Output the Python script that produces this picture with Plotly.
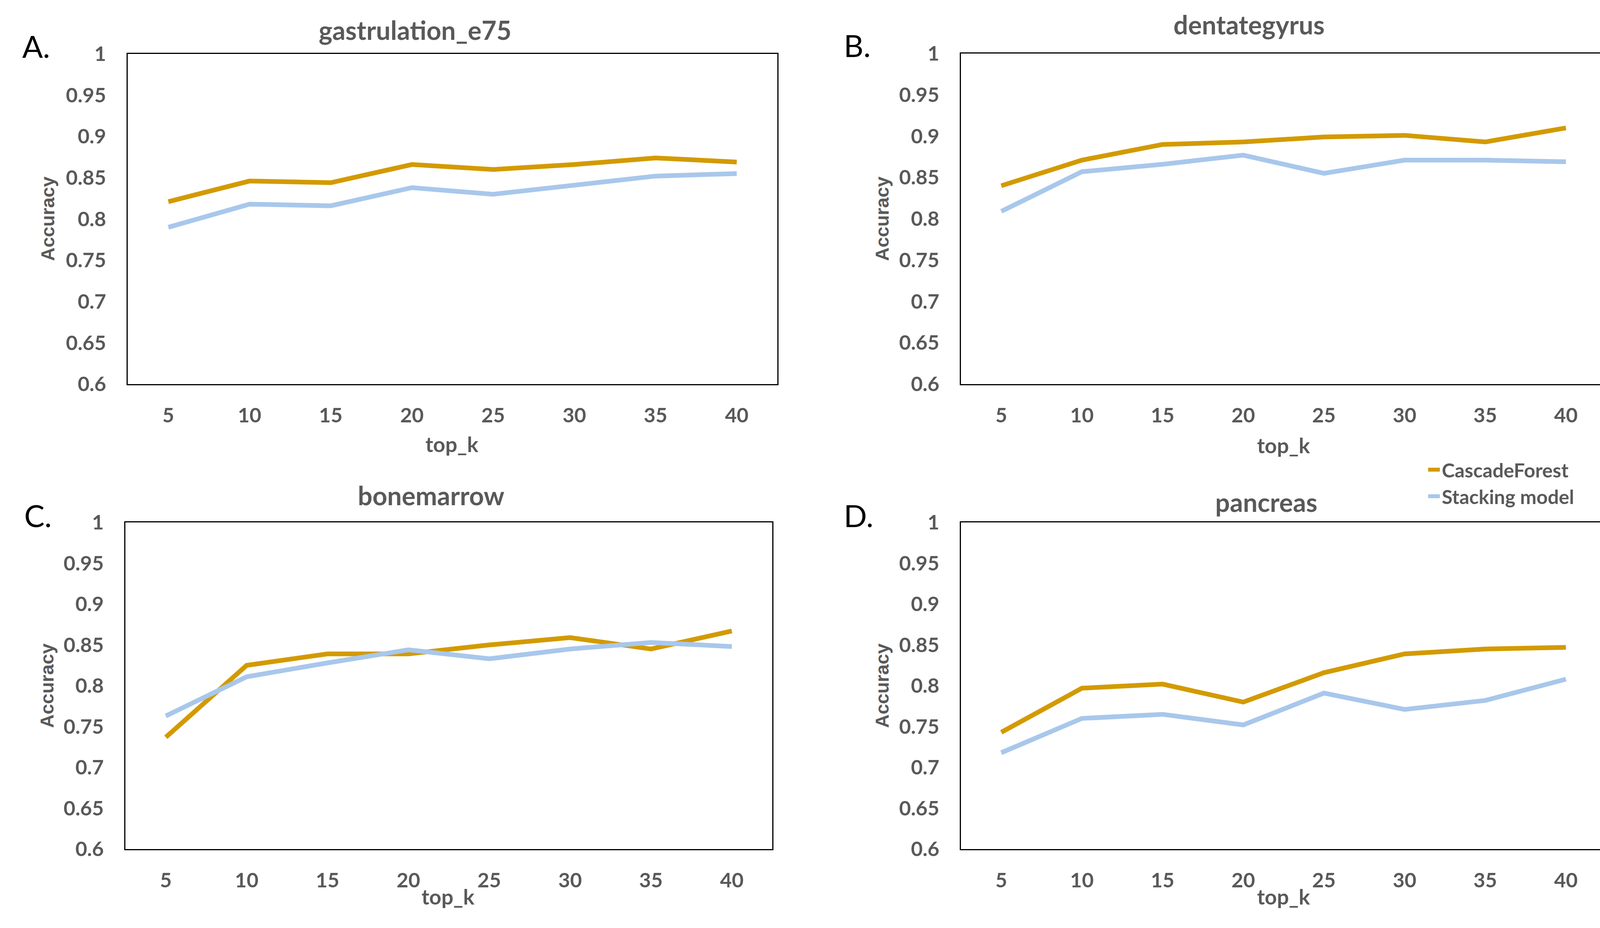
import plotly.graph_objects as go

# ---------------- data ----------------
top_k = [5, 10, 15, 20, 25, 30, 35, 40]
y_tick_vals = [0.6, 0.65, 0.7, 0.75, 0.8, 0.85, 0.9, 0.95, 1.0]
y_tick_text = ["0.6", "0.65", "0.7", "0.75", "0.8", "0.85", "0.9", "0.95", "1"]
series_names = ["CascadeForest", "Stacking model"]
panel_titles = ["gastrulation_e75", "dentategyrus", "bonemarrow", "pancreas"]
panel_letters = ["A.", "B.", "C.", "D."]

gastrulation_cascade = [0.821, 0.846, 0.844, 0.866, 0.860, 0.866, 0.874, 0.869]
gastrulation_stacking = [0.790, 0.818, 0.816, 0.838, 0.830, 0.841, 0.852, 0.855]

dentategyrus_cascade = [0.840, 0.871, 0.890, 0.893, 0.899, 0.901, 0.893, 0.910]
dentategyrus_stacking = [0.809, 0.857, 0.866, 0.877, 0.855, 0.871, 0.871, 0.869]

bonemarrow_cascade = [0.737, 0.825, 0.839, 0.839, 0.850, 0.859, 0.845, 0.867]
bonemarrow_stacking = [0.763, 0.811, 0.828, 0.844, 0.833, 0.845, 0.853, 0.848]

pancreas_cascade = [0.743, 0.797, 0.802, 0.780, 0.816, 0.839, 0.845, 0.847]
pancreas_stacking = [0.718, 0.760, 0.765, 0.752, 0.791, 0.771, 0.782, 0.808]

panel_data = [
    (gastrulation_cascade, gastrulation_stacking),
    (dentategyrus_cascade, dentategyrus_stacking),
    (bonemarrow_cascade, bonemarrow_stacking),
    (pancreas_cascade, pancreas_stacking),
]

# ---------------- styling / layout ----------------
W, H = 4143, 2375
ORANGE = "#D39A00"
BLUE = "#A8C7EB"
GRAY = "#595959"
colors = [ORANGE, BLUE]

def px_x(v):
    return v / W

def px_y(v):
    return 1 - v / H

# plot boxes in pixels: (left, right, top, bottom)
boxes = [
    (327, 1990, 138, 983),
    (2460, 4112, 137, 983),
    (321, 1977, 1337, 2173),
    (2460, 4112, 1337, 2173),
]
title_pos = [(1062, 76), (3197, 62), (1103, 1267), (3241, 1284)]
letter_pos = [(55, 118), (2158, 116), (60, 1319), (2158, 1319)]
topk_pos = [(1157, 1136), (3286, 1139), (1147, 2294), (3286, 2294)]
acc_pos = [(122, 560), (2258, 560), (120, 1755), (2258, 1755)]

fig = go.Figure()

for i, (casc, stack) in enumerate(panel_data):
    xa = "x" if i == 0 else f"x{i+1}"
    ya = "y" if i == 0 else f"y{i+1}"
    for j, vals in enumerate((casc, stack)):
        fig.add_trace(go.Scatter(
            x=top_k, y=vals, mode="lines", name=series_names[j],
            line=dict(color=colors[j], width=12),
            xaxis=xa, yaxis=ya,
            showlegend=(i == 0), legendgroup=series_names[j],
        ))

layout = dict(
    width=W, height=H,
    margin=dict(l=0, r=0, t=0, b=0),
    paper_bgcolor="white", plot_bgcolor="white",
    showlegend=True,
    legend=dict(
        x=px_x(3651), xanchor="left",
        y=px_y(1163), yanchor="top",
        font=dict(family="Lato", size=50, color=GRAY, weight="bold"),
        bgcolor="rgba(0,0,0,0)",
        tracegroupgap=0,
    ),
)

axis_font = dict(family="Lato", size=52, color=GRAY, weight="bold")
annotations = []
for i, (l, r, t, b) in enumerate(boxes):
    xk = "xaxis" if i == 0 else f"xaxis{i+1}"
    yk = "yaxis" if i == 0 else f"yaxis{i+1}"
    ya = "y" if i == 0 else f"y{i+1}"
    xa = "x" if i == 0 else f"x{i+1}"
    layout[xk] = dict(
        domain=[px_x(l), px_x(r)], anchor=ya,
        range=[2.5, 42.5], tickvals=top_k, ticktext=[str(v) for v in top_k],
        showgrid=False, zeroline=False, ticks="",
        showline=True, linecolor="black", linewidth=3, mirror=True,
        tickfont=axis_font, ticklabelstandoff=33, automargin=False,
    )
    layout[yk] = dict(
        domain=[px_y(b), px_y(t)], anchor=xa,
        range=[0.6, 1.0], tickvals=y_tick_vals, ticktext=y_tick_text,
        showgrid=False, zeroline=False, ticks="",
        showline=True, linecolor="black", linewidth=3, mirror=True,
        tickfont=axis_font, ticklabelstandoff=42, automargin=False,
    )
    tx, ty = title_pos[i]
    annotations.append(dict(
        text=panel_titles[i], x=px_x(tx), y=px_y(ty), xref="paper", yref="paper",
        xanchor="center", yanchor="middle", showarrow=False,
        font=dict(family="Lato", size=66, color=GRAY, weight="bold"),
    ))
    lx, ly = letter_pos[i]
    annotations.append(dict(
        text=panel_letters[i], x=px_x(lx), y=px_y(ly), xref="paper", yref="paper",
        xanchor="left", yanchor="middle", showarrow=False,
        font=dict(family="Lato", size=78, color="black"),
    ))
    kx, ky = topk_pos[i]
    annotations.append(dict(
        text="top_k", x=px_x(kx), y=px_y(ky), xref="paper", yref="paper",
        xanchor="center", yanchor="middle", showarrow=False,
        font=dict(family="Lato", size=54, color=GRAY, weight="bold"),
    ))
    ax_, ay_ = acc_pos[i]
    annotations.append(dict(
        text="Accuracy", x=px_x(ax_), y=px_y(ay_), xref="paper", yref="paper",
        xanchor="center", yanchor="middle", showarrow=False, textangle=-90,
        font=dict(family="Liberation Sans", size=48, color=GRAY, weight="bold"),
    ))

layout["annotations"] = annotations
fig.update_layout(**layout)

fig.write_html(
    "out.html",
    config={"displayModeBar": False},
    post_script="document.body.style.margin='0';",
)
